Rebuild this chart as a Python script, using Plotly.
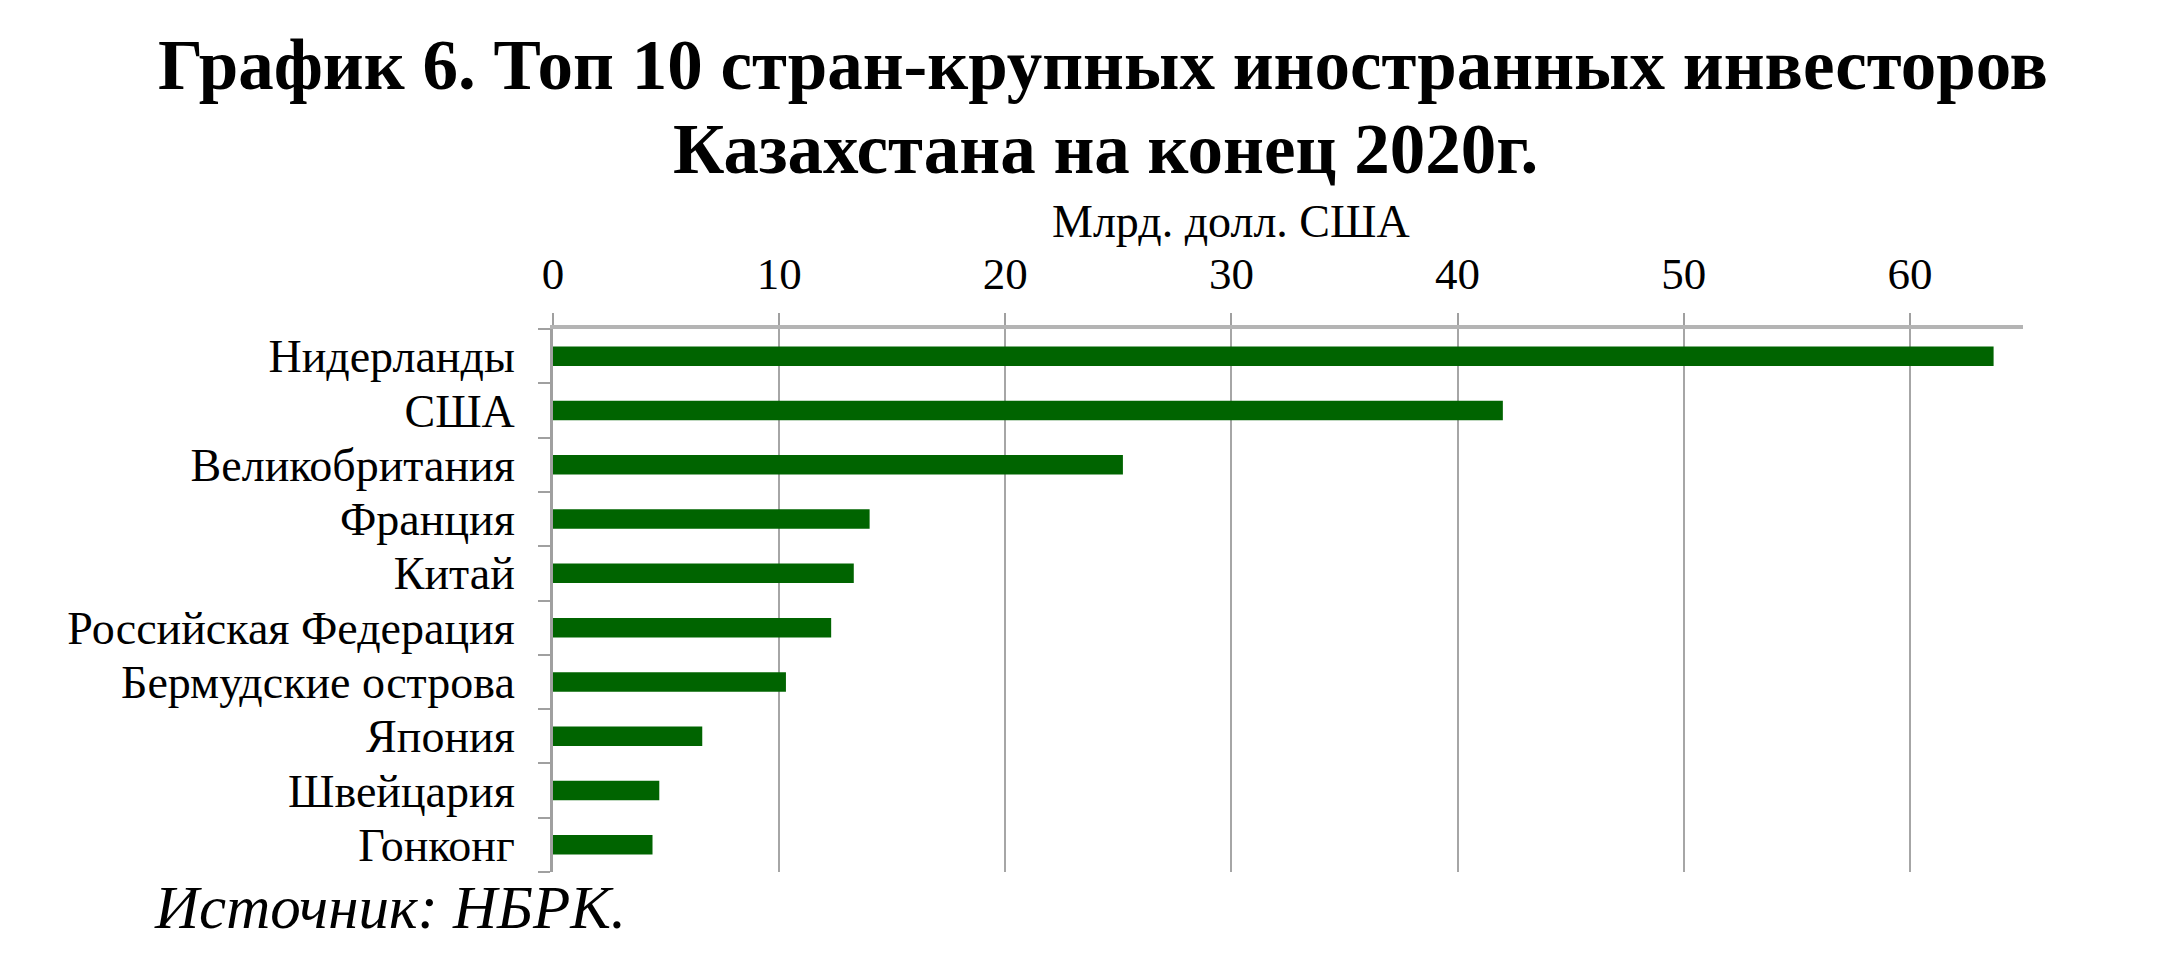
import plotly.graph_objects as go

countries = ["Нидерланды", "США", "Великобритания", "Франция", "Китай",
             "Российская Федерация", "Бермудские острова", "Япония", "Швейцария", "Гонконг"]
values = [63.7, 42.0, 25.2, 14.0, 13.3, 12.3, 10.3, 6.6, 4.7, 4.4]
x_ticks = [0, 10, 20, 30, 40, 50, 60]

title_line1 = "График 6. Топ 10 стран-крупных иностранных инвесторов"
title_line2 = "Казахстана на конец 2020г."
axis_title = "Млрд. долл. США"
source_text = "Источник: НБРК."

W, H = 2160, 974
L, R, T, B = 553, 137, 329, 102
PW, PH = W - L - R, H - T - B
FONT = "Liberation Serif"


def px_x(px):
    return (px - L) / PW


def px_y(py):
    return (H - B - py) / PH


fig = go.Figure(go.Bar(
    x=values, y=countries, orientation="h",
    marker=dict(color="#006400", line=dict(width=0)),
    width=0.36,
))

fig.update_layout(
    width=W, height=H,
    margin=dict(l=L, r=R, t=T, b=B),
    paper_bgcolor="white", plot_bgcolor="white",
    font=dict(family=FONT, color="black", size=46),
    showlegend=False,
    xaxis=dict(
        side="top", range=[0, 65], tickmode="array", tickvals=x_ticks,
        showgrid=True, gridcolor="#a6a6a6", gridwidth=2,
        showline=True, linecolor="#b4b4b4", linewidth=4,
        ticks="outside", ticklen=12, tickcolor="#a0a0a0", tickwidth=2,
        tickfont=dict(size=45, family=FONT), ticklabelstandoff=6,
        zeroline=False, fixedrange=True,
    ),
    yaxis=dict(
        categoryorder="array", categoryarray=countries, autorange="reversed",
        tickmode="array", tickvals=countries, ticktext=countries,
        showline=True, linecolor="#a0a0a0", linewidth=3,
        ticks="outside", ticklen=12, tickcolor="#a0a0a0", tickwidth=2,
        tickson="boundaries", showgrid=False,
        tickfont=dict(size=46, family=FONT), ticklabelstandoff=26,
        fixedrange=True,
    ),
)

ann = [
    dict(text=title_line1, x=px_x(1103), y=px_y(65),
         font=dict(size=71, family=FONT, color="black"), bold=True),
    dict(text=title_line2, x=px_x(1105), y=px_y(149),
         font=dict(size=71, family=FONT, color="black"), bold=True),
    dict(text=axis_title, x=px_x(1231), y=px_y(222),
         font=dict(size=46, family=FONT, color="black")),
]
for a in ann:
    bold = a.pop("bold", False)
    if bold:
        a["text"] = "<b>" + a["text"] + "</b>"
    fig.add_annotation(xref="paper", yref="paper", xanchor="center", yanchor="middle",
                       showarrow=False, **a)

fig.add_annotation(text="<i>" + source_text + "</i>", xref="paper", yref="paper",
                   x=px_x(152), y=px_y(907), xanchor="left", yanchor="middle",
                   showarrow=False, font=dict(size=61, family=FONT, color="black"))

fig.write_html("out.html")
